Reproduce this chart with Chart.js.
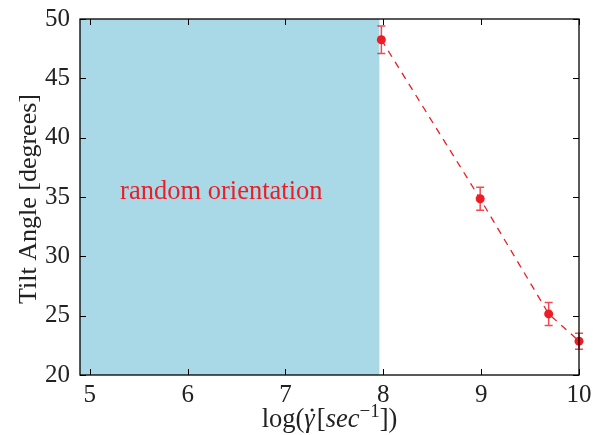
<!DOCTYPE html>
<html>
<head>
<meta charset="utf-8">
<script src="https://cdn.jsdelivr.net/npm/chart.js@4.4.1/dist/chart.umd.min.js"></script>
<style>
html,body{margin:0;padding:0;background:#fff;}
#wrap{width:593px;height:435px;position:relative;}
</style>
</head>
<body>
<div id="wrap"><canvas id="c" width="593" height="435"></canvas></div>
<script>
// ---- data ----
const shearLog = [7.98, 8.99, 9.69, 10.0];
const tiltAngle = [48.25, 34.85, 25.15, 22.85];
const tiltErr = [1.15, 0.97, 0.97, 0.67];
const xTicks = [5, 6, 7, 8, 9, 10];
const yTicks = [20, 25, 30, 35, 40, 45, 50];
const xRange = [4.9, 10];
const yRange = [20, 50];
const shadeRange = [4.9, 7.96];
const annotationText = 'random orientation';
const annotationPos = [5.31, 35.4];
const xTitleParts = [
  {t:'log(', style:''},
  {t:'\u03B3', style:'italic ', dot:true},
  {t:'[', style:''},
  {t:'sec', style:'italic '},
  {t:'\u22121', style:'', sup:true},
  {t:'])', style:''}
];
const yTitle = 'Tilt Angle [degrees]';

const RED = '#ee1d25';
const BLUE = '#a9d8e7';
const SERIF = '"Liberation Serif", "DejaVu Serif", serif';

const shadePlugin = {
  id: 'shade',
  beforeDatasetsDraw(chart) {
    const {ctx, chartArea, scales:{x, y}} = chart;
    const x0 = x.getPixelForValue(shadeRange[0]);
    const x1 = x.getPixelForValue(shadeRange[1]);
    ctx.save();
    ctx.fillStyle = BLUE;
    ctx.fillRect(x0, chartArea.top, x1 - x0, chartArea.bottom - chartArea.top);
    ctx.fillStyle = RED;
    ctx.font = '26.5px ' + SERIF;
    ctx.textBaseline = 'middle';
    ctx.textAlign = 'left';
    ctx.fillText(annotationText, x.getPixelForValue(annotationPos[0]), y.getPixelForValue(annotationPos[1]));
    ctx.restore();
  }
};

const errPlugin = {
  id: 'errbars',
  afterDatasetsDraw(chart) {
    const {ctx, scales:{x, y}} = chart;
    ctx.save();
    ctx.strokeStyle = 'rgba(238,29,37,0.8)';
    ctx.lineWidth = 1.5;
    shearLog.forEach((xv, i) => {
      const px = x.getPixelForValue(xv);
      const top = y.getPixelForValue(tiltAngle[i] + tiltErr[i]);
      const bot = y.getPixelForValue(tiltAngle[i] - tiltErr[i]);
      ctx.beginPath();
      ctx.moveTo(px, top); ctx.lineTo(px, bot);
      ctx.moveTo(px - 4, top); ctx.lineTo(px + 4, top);
      ctx.moveTo(px - 4, bot); ctx.lineTo(px + 4, bot);
      ctx.stroke();
    });
    ctx.restore();
  }
};

const framePlugin = {
  id: 'frame',
  afterDraw(chart) {
    const {ctx, chartArea:a, scales:{x, y}} = chart;
    ctx.save();
    ctx.strokeStyle = '#000';
    ctx.lineWidth = 1;
    ctx.beginPath();
    xTicks.forEach(v => {
      const px = Math.round(x.getPixelForValue(v)) + 0.5;
      ctx.moveTo(px, a.bottom); ctx.lineTo(px, a.bottom - 6);
      ctx.moveTo(px, a.top); ctx.lineTo(px, a.top + 6);
    });
    yTicks.forEach(v => {
      const py = Math.round(y.getPixelForValue(v)) + 0.5;
      ctx.moveTo(a.left, py); ctx.lineTo(a.left + 6, py);
      ctx.moveTo(a.right, py); ctx.lineTo(a.right - 6, py);
    });
    ctx.stroke();
    ctx.lineWidth = 1.3;
    ctx.strokeRect(a.left, a.top, a.right - a.left, a.bottom - a.top);

    // x title
    ctx.fillStyle = '#222';
    ctx.textBaseline = 'alphabetic';
    ctx.textAlign = 'left';
    const fs = 26.5;
    const fontFor = p => p.style + (p.sup ? Math.round(fs*0.7) : fs) + 'px ' + SERIF;
    let total = 0;
    const widths = xTitleParts.map(p => {
      ctx.font = fontFor(p);
      const w = ctx.measureText(p.t).width + (p.dot ? 2 : 0);
      total += w;
      return w;
    });
    let cx = (a.left + a.right) / 2 - total / 2;
    const base = 427;
    xTitleParts.forEach((p, i) => {
      ctx.font = fontFor(p);
      ctx.fillText(p.t, cx, p.sup ? base - 10 : base);
      if (p.dot) {
        ctx.beginPath();
        ctx.arc(cx + widths[i] / 2 + 1.5, base - 17, 1.6, 0, Math.PI * 2);
        ctx.fill();
      }
      cx += widths[i];
    });

    // y title
    ctx.save();
    ctx.translate(36, (a.top + a.bottom) / 2 + 2);
    ctx.rotate(-Math.PI / 2);
    ctx.textAlign = 'center';
    ctx.font = '26px ' + SERIF;
    ctx.fillText(yTitle, 0, 0);
    ctx.restore();
    ctx.restore();
  }
};

function noPad(s) { s.paddingTop = 0; s.paddingBottom = 0; s.paddingLeft = 0; s.paddingRight = 0; }

new Chart(document.getElementById('c'), {
  type: 'scatter',
  data: {
    datasets: [{
      data: shearLog.map((v, i) => ({x: v, y: tiltAngle[i]})),
      showLine: true,
      borderColor: RED,
      borderWidth: 1.3,
      borderDash: [7, 6],
      backgroundColor: RED,
      pointBackgroundColor: RED,
      pointBorderColor: RED,
      pointRadius: 4.5,
      pointBorderWidth: 0,
      clip: false
    }]
  },
  options: {
    responsive: false,
    animation: false,
    devicePixelRatio: 1,
    layout: {padding: {top: 19, right: 14, left: 0, bottom: 0}},
    plugins: {legend: {display: false}, tooltip: {enabled: false}},
    scales: {
      x: {
        type: 'linear',
        min: xRange[0], max: xRange[1],
        afterBuildTicks(s) { s.ticks = xTicks.map(v => ({value: v})); },
        afterFit(s) { s.height = 60; noPad(s); },
        grid: {display: false, drawTicks: false},
        border: {display: false},
        ticks: {color: '#222', padding: 5, maxRotation: 0, autoSkip: false,
          font: {family: SERIF, size: 25}}
      },
      y: {
        type: 'linear',
        min: yRange[0], max: yRange[1],
        afterBuildTicks(s) { s.ticks = yTicks.map(v => ({value: v})); },
        afterFit(s) { s.width = 80; noPad(s); },
        grid: {display: false, drawTicks: false},
        border: {display: false},
        ticks: {color: '#222', padding: 10, autoSkip: false,
          font: {family: SERIF, size: 25}}
      }
    }
  },
  plugins: [shadePlugin, errPlugin, framePlugin]
});
</script>
</body>
</html>
